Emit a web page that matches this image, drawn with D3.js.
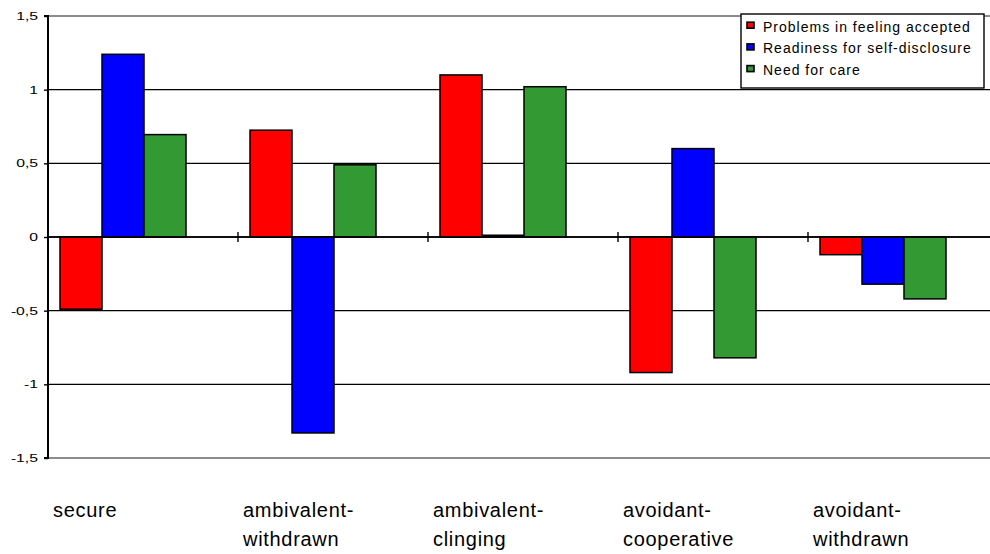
<!DOCTYPE html>
<html>
<head>
<meta charset="utf-8">
<script src="https://cdn.jsdelivr.net/npm/d3@7"></script>
<style>
  html, body { margin: 0; padding: 0; background: #fff; }
  svg { display: block; font-family: "Liberation Sans", Arial, sans-serif; }
</style>
</head>
<body>
<svg id="chart" width="990" height="554"></svg>
<script>
// Attachment styles on the x axis (two-line labels)
const categories = ["secure", "ambivalent-withdrawn", "ambivalent-clinging", "avoidant-cooperative", "avoidant-withdrawn"];
const categoryLines = [["secure"], ["ambivalent-", "withdrawn"], ["ambivalent-", "clinging"], ["avoidant-", "cooperative"], ["avoidant-", "withdrawn"]];

const seriesNames = ["Problems in feeling accepted", "Readiness for self-disclosure", "Need for care"];
const seriesColors = ["#ff0000", "#0000ff", "#339933"];

// Standardised scores per attachment style
const problemsAccepted = [-0.49, 0.725, 1.10, -0.92, -0.12];
const selfDisclosure   = [1.24, -1.33, 0.012, 0.60, -0.32];
const needForCare      = [0.695, 0.49, 1.02, -0.82, -0.42];
const seriesValues = [problemsAccepted, selfDisclosure, needForCare];

const yTicks = [1.5, 1, 0.5, 0, -0.5, -1, -1.5];
const yTickLabels = ["1,5", "1", "0,5", "0", "-0,5", "-1", "-1,5"];

const svg = d3.select("#chart");
const plotLeft = 48, plotRight = 998, plotTop = 16, plotBottom = 458;

const y = d3.scaleLinear().domain([-1.5, 1.5]).range([plotBottom, plotTop]);
const x0 = d3.scaleBand().domain(categories).range([plotLeft, plotRight]).padding(0);
const barW = 42, barOffset = 12;

// horizontal grid lines (black inside, grey frame at top and bottom)
svg.append("g").selectAll("line")
  .data(yTicks)
  .join("line")
  .attr("x1", plotLeft).attr("x2", 990)
  .attr("y1", d => y(d)).attr("y2", d => y(d))
  .attr("stroke", d => (d === 1.5 || d === -1.5) ? "#8c8c8c" : "#000")
  .attr("stroke-width", d => (d === 1.5 || d === -1.5) ? 2 : 1.4);

// bars
const barData = [];
categories.forEach((c, i) => {
  seriesValues.forEach((vals, s) => barData.push({ c, s, v: vals[i] }));
});
svg.append("g").selectAll("rect")
  .data(barData)
  .join("rect")
  .attr("x", d => x0(d.c) + barOffset + d.s * barW)
  .attr("width", barW)
  .attr("y", d => y(Math.max(0, d.v)))
  .attr("height", d => Math.abs(y(d.v) - y(0)))
  .attr("fill", d => seriesColors[d.s])
  .attr("stroke", "#000")
  .attr("stroke-width", 1.5);

// zero line with category separator ticks
svg.append("line")
  .attr("x1", plotLeft).attr("x2", 990)
  .attr("y1", y(0)).attr("y2", y(0))
  .attr("stroke", "#000").attr("stroke-width", 1.6);
svg.append("g").selectAll("line")
  .data(categories.slice(1))
  .join("line")
  .attr("x1", d => x0(d)).attr("x2", d => x0(d))
  .attr("y1", y(0) - 5).attr("y2", y(0) + 5)
  .attr("stroke", "#000").attr("stroke-width", 1.4);

// y axis
const yAxis = d3.axisLeft(y)
  .tickValues(yTicks)
  .tickSize(4)
  .tickFormat((d, i) => yTickLabels[i]);
const ya = svg.append("g").attr("transform", `translate(${plotLeft},0)`).call(yAxis);
ya.select(".domain").attr("stroke", "#000").attr("stroke-width", 2).attr("d", `M-4,${plotTop}H0V${plotBottom}H-4`);
ya.selectAll(".tick line").attr("stroke", "#000").attr("stroke-width", 1.4);
ya.selectAll(".tick text")
  .attr("x", -10 / 1.5)
  .attr("transform", "scale(1.5,1)")
  .attr("font-size", 10.5)
  .attr("font-family", "Liberation Sans, Arial, sans-serif")
  .attr("fill", "#000");

// category labels
const labels = svg.append("g").selectAll("text")
  .data(categories)
  .join("text")
  .attr("x", d => x0(d) + 5)
  .attr("y", 517)
  .attr("font-size", 20)
  .attr("letter-spacing", 0.7)
  .attr("fill", "#000");
labels.each(function(d, i) {
  const t = d3.select(this);
  categoryLines[i].forEach((line, k) => {
    t.append("tspan").attr("x", x0(d) + 5).attr("dy", k === 0 ? 0 : 29).text(line);
  });
});

// legend
const lg = svg.append("g").attr("transform", "translate(741,14)");
lg.append("rect").attr("width", 243).attr("height", 74)
  .attr("fill", "#fff").attr("stroke", "#000").attr("stroke-width", 1.4);
const items = lg.selectAll("g.item")
  .data(seriesNames)
  .join("g")
  .attr("class", "item")
  .attr("transform", (d, i) => `translate(0,${17.7 + i * 21.7})`);
items.append("rect")
  .attr("x", 6).attr("y", -9.5)
  .attr("width", 7).attr("height", 6)
  .attr("fill", (d, i) => seriesColors[i])
  .attr("stroke", "#000").attr("stroke-width", 1.6);
items.append("text")
  .attr("x", 22).attr("y", 0)
  .attr("font-size", 14)
  .attr("letter-spacing", 1)
  .attr("fill", "#000")
  .text(d => d);
</script>
</body>
</html>
